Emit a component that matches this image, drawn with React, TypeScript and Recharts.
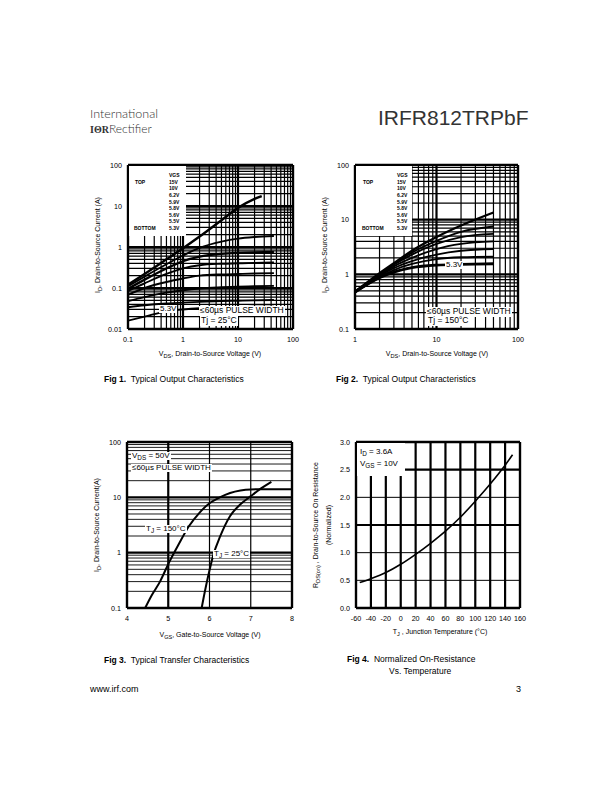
import React from "react";
import { LineChart, Line, XAxis, YAxis, ReferenceLine } from "recharts";

const FONT = "'Liberation Sans', Arial, Helvetica, sans-serif";

// ---- Fig 1: typical output characteristics, Tj = 25°C ----
const fig1Vgs = ["15V", "10V", "6.2V", "5.9V", "5.8V", "5.6V", "5.5V", "5.3V"];
const fig1Vds = [0.1, 0.2, 0.5, 1, 2, 5, 10, 20, 45];
const fig1VdsTop = [0.1, 0.2, 0.5, 1, 2, 5, 10, 20, 27];
const fig1Id15 = [0.12, 0.22, 0.5, 0.93, 1.8, 4.5, 9, 15, 17.5];
const fig1Id10 = [0.11, 0.19, 0.38, 0.62, 0.95, 1.35, 1.6, 1.75, 1.85];
const fig1Id62 = [0.095, 0.16, 0.3, 0.45, 0.58, 0.68, 0.72, 0.74, 0.75];
const fig1Id59 = [0.085, 0.13, 0.22, 0.3, 0.36, 0.39, 0.4, 0.41, 0.42];
const fig1Id58 = [0.068, 0.1, 0.14, 0.17, 0.2, 0.215, 0.22, 0.225, 0.23];
const fig1Id56 = [0.048, 0.06, 0.077, 0.088, 0.097, 0.104, 0.108, 0.11, 0.113];
const fig1Id55 = [0.034, 0.038, 0.042, 0.044, 0.046, 0.048, 0.049, 0.05, 0.051];
const fig1Id53 = [0.016, 0.02, 0.027, 0.03, 0.032, 0.033, 0.034, 0.035, 0.035];

// ---- Fig 2: typical output characteristics, Tj = 150°C ----
const fig2Vds = [1, 2, 3, 5, 10, 20, 50];
const fig2Id15 = [0.48, 1.05, 1.6, 2.7, 4.8, 7.8, 13.5];
const fig2Id10 = [0.48, 1.02, 1.55, 2.5, 4.1, 6.0, 7.5];
const fig2Id62 = [0.48, 1.0, 1.5, 2.3, 3.6, 4.8, 5.5];
const fig2Id59 = [0.48, 0.97, 1.4, 2.0, 2.9, 3.6, 4.0];
const fig2Id58 = [0.48, 0.94, 1.3, 1.75, 2.3, 2.7, 2.9];
const fig2Id56 = [0.47, 0.9, 1.2, 1.55, 1.9, 2.05, 2.1];
const fig2Id55 = [0.47, 0.87, 1.12, 1.35, 1.5, 1.55, 1.6];
const fig2Id53 = [0.46, 0.85, 1.08, 1.3, 1.45, 1.5, 1.52];

// ---- Fig 3: transfer characteristics ----
const fig3Vgs150 = [4.44, 4.6, 4.8, 5.0, 5.25, 5.5, 5.75, 6.0, 6.25, 6.5, 6.75, 7.0, 7.25, 8.0];
const fig3Id150 = [0.1, 0.17, 0.3, 0.62, 1.4, 3.0, 5.2, 7.8, 10, 12, 13.3, 13.9, 14, 14];
const fig3Vgs25 = [5.81, 5.9, 6.0, 6.1, 6.25, 6.5, 6.75, 7.0, 7.25, 7.5];
const fig3Id25 = [0.1, 0.22, 0.48, 0.95, 1.9, 4.6, 7.5, 10.5, 14.5, 19];

// ---- Fig 4: normalized on-resistance vs temperature ----
const fig4Tj = [-55, -40, -20, 0, 20, 40, 60, 80, 100, 120, 140, 150];
const fig4Rds = [0.46, 0.53, 0.64, 0.79, 0.97, 1.17, 1.39, 1.64, 1.93, 2.24, 2.58, 2.77];

const logTicks1 = [0.1, 1, 10, 100];
const logTicksY1 = [0.01, 0.1, 1, 10, 100];
const logTicks2 = [1, 10, 100];
const logTicksY2 = [0.1, 1, 10, 100];
const fig3XTicks = [4, 5, 6, 7, 8];
const fig4XTicks = [-60, -40, -20, 0, 20, 40, 60, 80, 100, 120, 140, 160];
const fig4YTicks = [0, 0.5, 1, 1.5, 2, 2.5, 3];

type G = { v: number; w: number };
type S = { xs: number[]; ys: number[]; w?: number };

function logGrid(from: number, to: number, major = 2.2, minor = 1.2): G[] {
  const out: G[] = [];
  for (let d = from; d < to; d *= 10) {
    for (let k = 2; k <= 9; k++) out.push({ v: +(d * k).toPrecision(3), w: minor });
    if (d * 10 < to) out.push({ v: d * 10, w: major });
  }
  return out;
}

const tickStyle = { fontSize: 7.2, fill: "#000", fontFamily: FONT };

function Panel(p: {
  box: number[];
  plot: number[];
  xDomain: number[];
  yDomain: number[];
  xTicks: number[];
  yTicks: number[];
  xLog?: boolean;
  yLog?: boolean;
  xGrid: G[];
  yGrid: G[];
  series: S[];
  yFmt?: (v: number) => string;
}) {
  const [L, T, W, H] = p.box;
  const [x0, y0, x1, y1] = p.plot;
  const yw = 30;
  const xh = 16;
  const margin = { left: x0 - L - yw, top: y0 - T, right: L + W - x1, bottom: T + H - y1 - xh };
  return (
    <div style={{ position: "absolute", left: L, top: T }}>
      <LineChart width={W} height={H} margin={margin}>
        <XAxis
          type="number"
          dataKey="x"
          domain={p.xDomain}
          scale={p.xLog ? "log" : "linear"}
          ticks={p.xTicks}
          interval={0}
          allowDataOverflow
          axisLine={false}
          tickLine={false}
          tickSize={6}
          tick={tickStyle}
          height={xh}
        />
        <YAxis
          type="number"
          dataKey="y"
          domain={p.yDomain}
          scale={p.yLog ? "log" : "linear"}
          ticks={p.yTicks}
          interval={0}
          allowDataOverflow
          axisLine={false}
          tickLine={false}
          tickSize={4}
          tick={tickStyle}
          tickFormatter={p.yFmt}
          width={yw}
        />
        {p.xGrid.map((g) => (
          <ReferenceLine key={"gx" + g.v} x={g.v} stroke="#000" strokeWidth={g.w} />
        ))}
        {p.yGrid.map((g) => (
          <ReferenceLine key={"gy" + g.v} y={g.v} stroke="#000" strokeWidth={g.w} />
        ))}
        <ReferenceLine x={p.xDomain[0]} stroke="#000" strokeWidth={2.4} />
        <ReferenceLine x={p.xDomain[1]} stroke="#000" strokeWidth={2.4} />
        <ReferenceLine y={p.yDomain[0]} stroke="#000" strokeWidth={2.4} />
        <ReferenceLine y={p.yDomain[1]} stroke="#000" strokeWidth={2.4} />
        {p.series.map((s, i) => (
          <Line
            key={i}
            data={s.xs.map((x, j) => ({ x, y: s.ys[j] }))}
            dataKey="y"
            type="monotone"
            stroke="#000"
            strokeWidth={s.w || 1.9}
            dot={false}
            isAnimationActive={false}
          />
        ))}
      </LineChart>
    </div>
  );
}

function T(p: { x: number; y: number; size?: number; bg?: boolean; bold?: boolean; mid?: boolean; color?: string; family?: string; weight?: number; children: React.ReactNode }) {
  const size = p.size || 7;
  return (
    <div
      style={{
        position: "absolute",
        left: p.x,
        top: p.y - size * 0.55,
        fontSize: size,
        lineHeight: 1.1 + "",
        whiteSpace: "nowrap",
        fontFamily: p.family || FONT,
        fontWeight: p.weight || (p.bold ? 700 : 400),
        color: p.color || "#000",
        background: p.bg ? "#fff" : undefined,
        transform: p.mid ? "translateX(-50%)" : undefined,
        padding: p.bg ? "0 1px" : undefined,
      }}
    >
      {p.children}
    </div>
  );
}

function VT(p: { x: number; y: number; size?: number; children: React.ReactNode }) {
  return (
    <div
      style={{
        position: "absolute",
        left: p.x,
        top: p.y,
        fontSize: p.size || 7,
        lineHeight: 1,
        whiteSpace: "nowrap",
        fontFamily: FONT,
        transform: "translate(-50%,-50%) rotate(-90deg)",
      }}
    >
      {p.children}
    </div>
  );
}

const Sub = ({ children }: { children: React.ReactNode }) => (
  <span style={{ fontSize: "0.8em", position: "relative", top: "0.3em" }}>{children}</span>
);

function Box(p: { x: number; y: number; w: number; h: number }) {
  return <div style={{ position: "absolute", left: p.x, top: p.y, width: p.w, height: p.h, background: "#fff" }} />;
}

function LegendBlock({ x, valX, labels }: { x: number; valX: number; labels: string[] }) {
  const rows = ["VGS", ...labels];
  return (
    <>
      {rows.map((r, i) => (
        <T key={r + i} x={valX} y={176 + i * 6.6} size={5} bold>
          {r}
        </T>
      ))}
      <T x={x} y={176 + 6.6} size={5} bold>TOP</T>
      <T x={x - 1} y={176 + 8 * 6.6} size={5} bold>BOTTOM</T>
    </>
  );
}

export default function App() {
  const fig1Series: S[] = [
    { xs: fig1VdsTop, ys: fig1Id15, w: 2.4 },
    { xs: fig1Vds, ys: fig1Id10 },
    { xs: fig1Vds, ys: fig1Id62, w: 2.3 },
    { xs: fig1Vds, ys: fig1Id59 },
    { xs: fig1Vds, ys: fig1Id58 },
    { xs: fig1Vds, ys: fig1Id56 },
    { xs: fig1Vds, ys: fig1Id55 },
    { xs: fig1Vds, ys: fig1Id53 },
  ];
  const fig2Series: S[] = [
    { xs: fig2Vds, ys: fig2Id15, w: 2.3 },
    { xs: fig2Vds, ys: fig2Id10 },
    { xs: fig2Vds, ys: fig2Id62 },
    { xs: fig2Vds, ys: fig2Id59 },
    { xs: fig2Vds, ys: fig2Id58 },
    { xs: fig2Vds, ys: fig2Id56 },
    { xs: fig2Vds, ys: fig2Id55 },
    { xs: fig2Vds, ys: fig2Id53 },
  ];
  const fig3Series: S[] = [
    { xs: fig3Vgs150, ys: fig3Id150, w: 2 },
    { xs: fig3Vgs25, ys: fig3Id25, w: 2 },
  ];
  const fig4Series: S[] = [{ xs: fig4Tj, ys: fig4Rds, w: 1.6 }];

  const fig3XGrid: G[] = [
    { v: 5, w: 2.2 },
    { v: 6, w: 1.2 },
    { v: 7, w: 1.2 },
  ];
  const fig4XGrid: G[] = [-40, -20, 0, 20, 40, 60, 80, 100, 120, 140].map((v) => ({ v, w: 2.2 }));
  const fig4YGrid: G[] = [
    { v: 0.5, w: 1 },
    { v: 1, w: 1 },
    { v: 1.5, w: 2.2 },
    { v: 2, w: 1 },
    { v: 2.5, w: 2.2 },
  ];

  return (
    <div style={{ position: "absolute", left: 0, top: 0, width: 612, height: 792, background: "#fff", fontFamily: FONT, overflow: "hidden" }}>
      {/* header */}
      <T x={90} y={114} size={12.5} family="Lato, 'Liberation Sans', sans-serif" weight={300} color="#333">International</T>
      <div style={{ position: "absolute", left: 90, top: 123, fontSize: 12, lineHeight: 1, whiteSpace: "nowrap", color: "#333", fontFamily: "Lato, 'Liberation Sans', sans-serif" }}>
        <span style={{ fontFamily: "'Liberation Serif', serif", fontWeight: 700, fontSize: 10 }}>IΘR</span>
        <span style={{ fontWeight: 300 }}>Rectifier</span>
      </div>
      <T x={378} y={118} size={21} color="#333">IRFR812TRPbF</T>

      {/* Fig 1 */}
      <Panel
        box={[90, 155, 215, 200]}
        plot={[128, 165, 293, 329]}
        xDomain={[0.1, 100]}
        yDomain={[0.01, 100]}
        xTicks={logTicks1}
        yTicks={logTicksY1}
        xLog
        yLog
        xGrid={logGrid(0.1, 100)}
        yGrid={logGrid(0.01, 100)}
        series={fig1Series}
      />
      <Box x={129} y={166} w={57} h={70} />
      <LegendBlock x={135} valX={169} labels={fig1Vgs} />
      <T x={159} y={309} size={8} bg>5.3V</T>
      <T x={199} y={311} size={8.5} bg>≤60µs PULSE WIDTH</T>
      <T x={200} y={321} size={8.5} bg>Tj = 25°C</T>
      <T x={210} y={354} mid>V<Sub>DS</Sub>, Drain-to-Source Voltage (V)</T>
      <VT x={98} y={245}>I<Sub>D</Sub>, Drain-to-Source Current (A)</VT>

      {/* Fig 2 */}
      <Panel
        box={[315, 155, 215, 200]}
        plot={[355, 165, 518, 329]}
        xDomain={[1, 100]}
        yDomain={[0.1, 100]}
        xTicks={logTicks2}
        yTicks={logTicksY2}
        xLog
        yLog
        xGrid={logGrid(1, 100)}
        yGrid={logGrid(0.1, 100)}
        series={fig2Series}
      />
      <Box x={356} y={166} w={56} h={70} />
      <LegendBlock x={363} valX={397} labels={fig1Vgs} />
      <T x={445} y={265} size={8} bg>5.3V</T>
      <T x={426} y={312} size={8.5} bg>≤60µs PULSE WIDTH</T>
      <T x={427} y={321} size={8.5} bg>Tj = 150°C</T>
      <T x={437} y={354} mid>V<Sub>DS</Sub>, Drain-to-Source Voltage (V)</T>
      <VT x={325} y={245}>I<Sub>D</Sub>, Drain-to-Source Current (A)</VT>

      {/* Fig 3 */}
      <Panel
        box={[90, 435, 215, 200]}
        plot={[127, 442, 292, 608]}
        xDomain={[4, 8]}
        yDomain={[0.1, 100]}
        xTicks={fig3XTicks}
        yTicks={logTicksY2}
        yLog
        xGrid={fig3XGrid}
        yGrid={logGrid(0.1, 100, 2.2, 0.9)}
        series={fig3Series}
      />
      <T x={131} y={456} size={8} bg>V<Sub>DS</Sub> = 50V</T>
      <T x={131} y={468} size={8} bg>≤60µs PULSE WIDTH</T>
      <T x={145} y={529} size={8} bg>T<Sub>J</Sub> = 150°C</T>
      <T x={213} y={554} size={8} bg>T<Sub>J</Sub> = 25°C</T>
      <T x={210} y={635} mid>V<Sub>GS</Sub>, Gate-to-Source Voltage (V)</T>
      <VT x={97} y={525}>I<Sub>D</Sub>, Drain-to-Source Current(A)</VT>

      {/* Fig 4 */}
      <Panel
        box={[305, 435, 230, 200]}
        plot={[356, 442, 520, 608]}
        xDomain={[-60, 160]}
        yDomain={[0, 3]}
        xTicks={fig4XTicks}
        yTicks={fig4YTicks}
        xGrid={fig4XGrid}
        yGrid={fig4YGrid}
        series={fig4Series}
        yFmt={(v) => v.toFixed(1)}
      />
      <Box x={357} y={443} w={48} h={33} />
      <T x={360} y={452} size={8}>I<Sub>D</Sub> = 3.6A</T>
      <T x={360} y={464} size={8}>V<Sub>GS</Sub> = 10V</T>
      <T x={440} y={632} mid>T<Sub>J</Sub> , Junction Temperature (°C)</T>
      <VT x={316} y={525}>R<Sub>DS(on)</Sub> , Drain-to-Source On Resistance</VT>
      <VT x={328} y={525}>(Normalized)</VT>

      {/* captions */}
      <T x={104} y={380} size={8.5}><b>Fig 1.</b>&nbsp; Typical Output Characteristics</T>
      <T x={336} y={380} size={8.5}><b>Fig 2.</b>&nbsp; Typical Output Characteristics</T>
      <T x={104} y={661} size={8.5}><b>Fig 3.</b>&nbsp; Typical Transfer Characteristics</T>
      <T x={347} y={660} size={8.5}><b>Fig 4.</b>&nbsp; Normalized On-Resistance</T>
      <T x={389} y={672} size={8.5}>Vs. Temperature</T>

      {/* footer */}
      <T x={90} y={690} size={9}>www.irf.com</T>
      <T x={516} y={690} size={9}>3</T>
    </div>
  );
}
